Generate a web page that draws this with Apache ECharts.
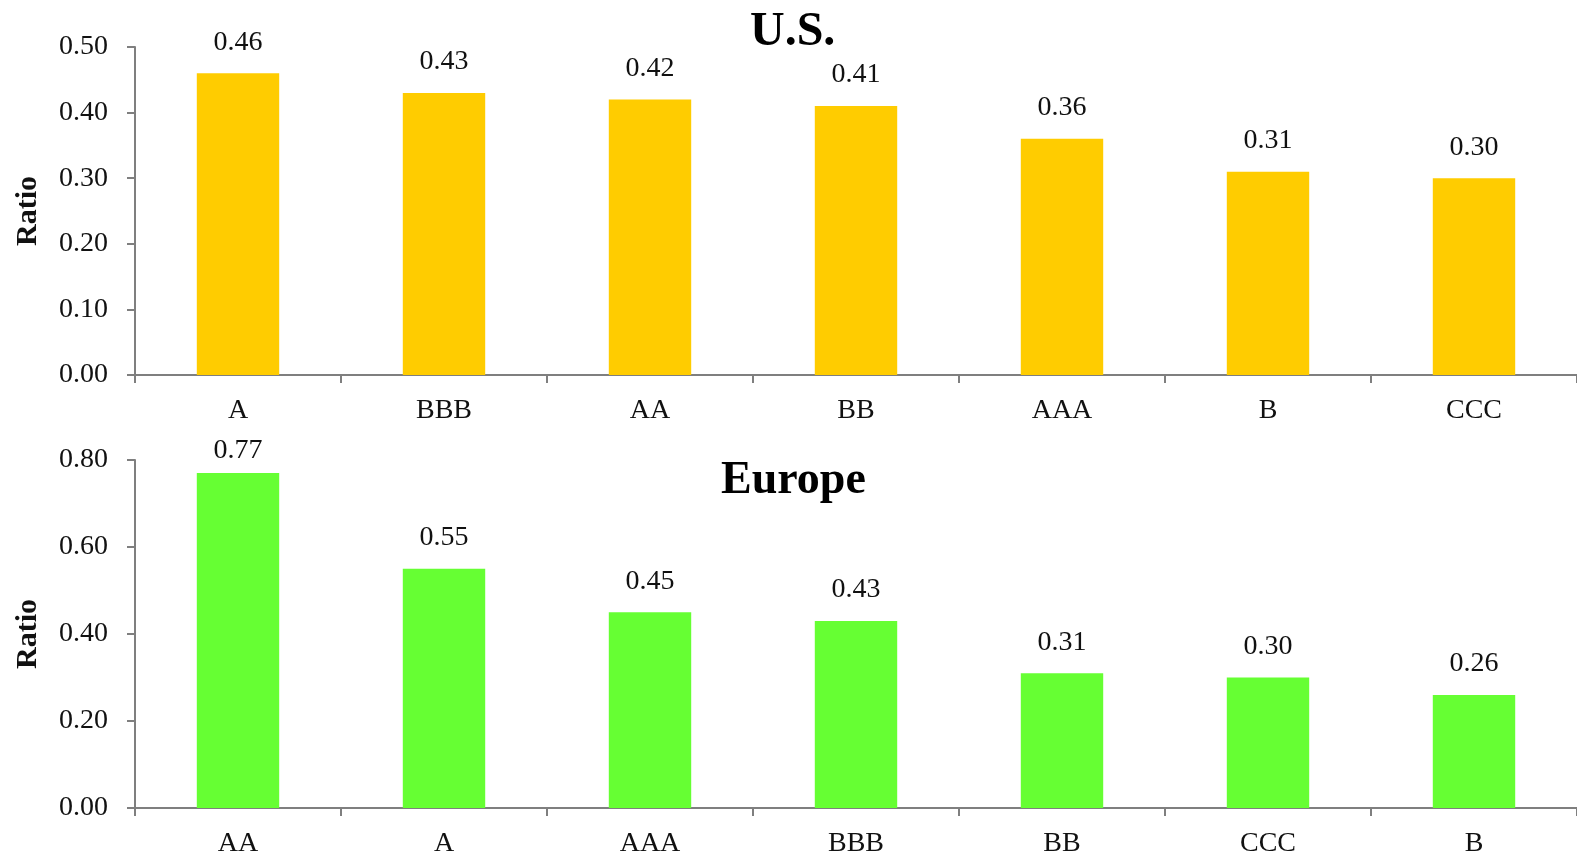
<!DOCTYPE html>
<html>
<head>
<meta charset="utf-8">
<script src="https://cdn.jsdelivr.net/npm/echarts@6/dist/echarts.min.js"></script>
<style>
  html, body { margin: 0; padding: 0; background: #ffffff; }
  #chart { width: 1577px; height: 856px; }
</style>
</head>
<body>
<div id="chart"></div>
<script>
// Ratio by rating bucket, U.S. and Europe
const usCategories = ['A', 'BBB', 'AA', 'BB', 'AAA', 'B', 'CCC'];
const usValues = [0.46, 0.43, 0.42, 0.41, 0.36, 0.31, 0.30];

const euCategories = ['AA', 'A', 'AAA', 'BBB', 'BB', 'CCC', 'B'];
const euValues = [0.77, 0.55, 0.45, 0.43, 0.31, 0.30, 0.26];

const usTicks = { min: 0, max: 0.5, interval: 0.1 };
const euTicks = { min: 0, max: 0.8, interval: 0.2 };

const FONT = '"Liberation Serif", "Times New Roman", serif';
const AXIS_COLOR = '#7f7f7f';
const TEXT_COLOR = '#111111';

function xAxisFor(cats, gridIndex) {
  return {
    type: 'category',
    gridIndex,
    data: cats,
    axisLine: { lineStyle: { color: AXIS_COLOR, width: 2 } },
    axisTick: { show: true, length: 8, alignWithLabel: false, lineStyle: { color: AXIS_COLOR, width: 2 } },
    axisLabel: { color: TEXT_COLOR, fontFamily: FONT, fontSize: 28, margin: 22 }
  };
}

function yAxisFor(ticks, gridIndex) {
  return {
    type: 'value',
    gridIndex,
    min: ticks.min,
    max: ticks.max,
    interval: ticks.interval,
    name: 'Ratio',
    nameLocation: 'middle',
    nameRotate: 90,
    nameGap: 92,
    nameTextStyle: { color: TEXT_COLOR, fontFamily: FONT, fontSize: 30, fontWeight: 'bold' },
    axisLine: { show: true, lineStyle: { color: AXIS_COLOR, width: 2 } },
    axisTick: { show: true, length: 8, lineStyle: { color: AXIS_COLOR, width: 2 } },
    splitLine: { show: false },
    axisLabel: {
      color: TEXT_COLOR, fontFamily: FONT, fontSize: 28, margin: 27,
      formatter: v => v.toFixed(2)
    }
  };
}

// Labels of bars that reach close to the top of the axis sit a little lower
function barSeries(values, color, idx, axisMax) {
  return {
    type: 'bar',
    xAxisIndex: idx,
    yAxisIndex: idx,
    data: values.map(v => (v > axisMax * 0.95
      ? { value: v, label: { distance: 8 } }
      : v)),
    barWidth: '40%',
    itemStyle: { color },
    label: {
      show: true,
      position: 'top',
      distance: 17,
      color: TEXT_COLOR,
      fontFamily: FONT,
      fontSize: 28,
      formatter: p => p.value.toFixed(2)
    }
  };
}

const chart = echarts.init(document.getElementById('chart'), null, { renderer: 'canvas' });
chart.setOption({
  animation: false,
  backgroundColor: '#ffffff',
  title: [
    { text: 'U.S.', left: 745, top: 4,
      textStyle: { fontFamily: FONT, fontSize: 48, fontWeight: 'bold', color: '#000' } },
    { text: 'Europe', left: 716, top: 453,
      textStyle: { fontFamily: FONT, fontSize: 46, fontWeight: 'bold', color: '#000' } }
  ],
  grid: [
    { left: 135, right: 0, top: 47, height: 328, outerBoundsMode: 'none' },
    { left: 135, right: 0, top: 460, height: 348, outerBoundsMode: 'none' }
  ],
  xAxis: [xAxisFor(usCategories, 0), xAxisFor(euCategories, 1)],
  yAxis: [yAxisFor(usTicks, 0), yAxisFor(euTicks, 1)],
  series: [
    barSeries(usValues, '#FFCC00', 0, usTicks.max),
    barSeries(euValues, '#66FF33', 1, euTicks.max)
  ]
});
</script>
</body>
</html>
